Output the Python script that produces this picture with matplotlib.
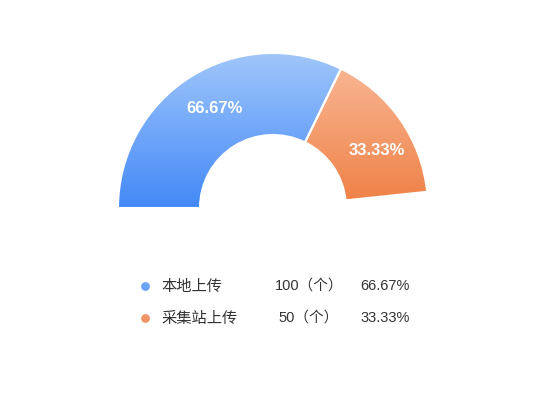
import numpy as np
import matplotlib
matplotlib.use("Agg")
import matplotlib.pyplot as plt
from matplotlib.patches import Wedge
from matplotlib.colors import LinearSegmentedColormap

plt.rcParams['font.family'] = ['Noto Sans CJK SC', 'DejaVu Sans']

names = ['本地上传', '采集站上传']
counts = [100, 50]
unit = '（个）'
top_colors = ['#a0c6fb', '#f9bb9a']
bottom_colors = ['#4389f7', '#ef7f44']
legend_dot_colors = ['#6aa3f8', '#f29465']

# layout, in pixels of a 550x420 canvas (y measured upwards)
W, H = 550, 420
cx, cy = 273, 212
r_out, r_in = 155, 73
start_angle = 180.0
span = 174.0
label_shift = [(2, 3), (10, -8)]  # nudge of inside labels, px

fig = plt.figure(figsize=(5.5, 4.2), dpi=100)
ax = fig.add_axes([0, 0, 1, 1])
ax.set_xlim(0, W)
ax.set_ylim(0, H)
ax.axis('off')

total = sum(counts)
pcts = [c / total * 100 for c in counts]

theta = start_angle
for i, c in enumerate(counts):
    sweep = span * c / total
    t1, t2 = theta - sweep, theta
    wedge = Wedge((cx, cy), r_out, t1, t2, width=r_out - r_in,
                  facecolor='none', edgecolor='none')
    ax.add_patch(wedge)
    cmap = LinearSegmentedColormap.from_list('g%d' % i, [bottom_colors[i], top_colors[i]])
    grad = np.linspace(0, 1, 256).reshape(-1, 1)
    im = ax.imshow(grad, cmap=cmap, origin='lower', aspect='auto',
                   extent=[cx - r_out, cx + r_out, cy, cy + r_out], zorder=1)
    im.set_clip_path(wedge)
    # white border
    ax.add_patch(Wedge((cx, cy), r_out, t1, t2, width=r_out - r_in,
                       facecolor='none', edgecolor='white', linewidth=1.5, zorder=2))
    mid = np.deg2rad((t1 + t2) / 2)
    rm = (r_out + r_in) / 2
    dx, dy = label_shift[i]
    ax.text(cx + rm * np.cos(mid) + dx, cy + rm * np.sin(mid) + dy, '%.2f%%' % pcts[i],
            color='white', fontsize=12, fontweight='bold',
            family=['Liberation Sans', 'DejaVu Sans'],
            ha='center', va='center', zorder=3)
    theta = t1

# legend
num_font = ['Liberation Sans', 'Noto Sans CJK SC']
row_y = [H - 286, H - 318]
for i in range(len(names)):
    ax.scatter([145], [row_y[i]], s=40, color=legend_dot_colors[i], zorder=3, linewidths=0)
    ax.text(161, row_y[i], names[i], fontsize=11, color='#333333', ha='left', va='center')
    ax.text(309, row_y[i], '%d%s' % (counts[i], unit), fontsize=10.5, color='#333333',
            family=num_font, ha='center', va='center')
    ax.text(360, row_y[i], '%.2f%%' % pcts[i], fontsize=10.5, color='#333333',
            family=num_font, ha='left', va='center')

fig.savefig('out.png', dpi=100)
